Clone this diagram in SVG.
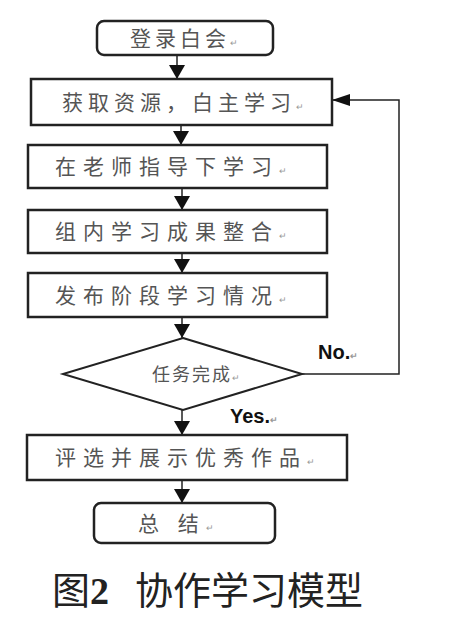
<svg xmlns="http://www.w3.org/2000/svg" width="450" height="618" viewBox="0 0 450 618">
<defs>
<marker id="ah" viewBox="0 0 14 16" refX="14" refY="8" markerWidth="14" markerHeight="16" markerUnits="userSpaceOnUse" orient="auto">
<path d="M0,0 L14,8 L0,16 z" fill="#111"/>
</marker>
<marker id="ah2" viewBox="0 0 18 12" refX="18" refY="6" markerWidth="18" markerHeight="12" markerUnits="userSpaceOnUse" orient="auto">
<path d="M0,0 L18,6 L0,12 z" fill="#111"/>
</marker>
</defs>
<style>
.box{fill:#fff;stroke:#222;stroke-width:2.5}
.t{font-family:"Noto Sans CJK SC","Liberation Serif",serif;font-size:21px;fill:#555;letter-spacing:7px}
.rm{font-size:9px;fill:#999;letter-spacing:0}
.c{stroke:#222;stroke-width:1.5;fill:none}
.lbl{font-family:"Liberation Sans",Arial,sans-serif;font-weight:bold;font-size:20px;fill:#111}
</style>
<rect width="450" height="618" fill="#fff"/>
<g id="connectors">
<line class="c" x1="177" y1="55" x2="177" y2="79" marker-end="url(#ah)"/>
<line class="c" x1="181" y1="125" x2="181" y2="145" marker-end="url(#ah)"/>
<line class="c" x1="182" y1="188" x2="182" y2="210" marker-end="url(#ah)"/>
<line class="c" x1="182" y1="253" x2="182" y2="273" marker-end="url(#ah)"/>
<line class="c" x1="182" y1="317" x2="182" y2="338" marker-end="url(#ah)"/>
<line class="c" x1="182" y1="410" x2="182" y2="435" marker-end="url(#ah)"/>
<line class="c" x1="182" y1="480" x2="182" y2="503" marker-end="url(#ah)"/>
<polyline class="c" points="302,374 399,374 399,100 332,100" marker-end="url(#ah2)"/>
<text class="lbl" x="318" y="359">No.<tspan class="rm">↵</tspan></text>
<text class="lbl" x="230" y="423">Yes.<tspan class="rm">↵</tspan></text>
</g>
<g id="start">
<rect class="box" x="97" y="21" width="176" height="34" rx="7"/>
<text class="t" style="letter-spacing:4px" x="130" y="46">登录白会<tspan class="rm">↵</tspan></text>
</g>
<g id="step1">
<rect class="box" x="31" y="79" width="301" height="46"/>
<text class="t" style="letter-spacing:5px" x="62" y="110">获取资源，白主学习<tspan class="rm">↵</tspan></text>
</g>
<g id="step2">
<rect class="box" x="28" y="145" width="299" height="43"/>
<text class="t" x="55" y="174">在老师指导下学习<tspan class="rm">↵</tspan></text>
</g>
<g id="step3">
<rect class="box" x="28" y="210" width="299" height="43"/>
<text class="t" x="55" y="239">组内学习成果整合<tspan class="rm">↵</tspan></text>
</g>
<g id="step4">
<rect class="box" x="28" y="273" width="299" height="44"/>
<text class="t" x="55" y="303">发布阶段学习情况<tspan class="rm">↵</tspan></text>
</g>
<g id="decision">
<polygon class="box" style="stroke-width:2" points="183,338 302,374 183,410 63,374"/>
<text class="t" style="font-size:18px;letter-spacing:2px" x="152" y="381">任务完成<tspan class="rm">↵</tspan></text>
</g>
<g id="step5">
<rect class="box" x="27" y="435" width="320" height="45"/>
<text class="t" style="letter-spacing:7px" x="55" y="465">评选并展示优秀作品<tspan class="rm">↵</tspan></text>
</g>
<g id="end">
<rect class="box" x="94" y="503" width="181" height="40" rx="7"/>
<text class="t" x="138" y="531">总 结<tspan class="rm">↵</tspan></text>
</g>
<text x="52" y="604" style="font-family:'Noto Sans CJK SC',sans-serif;font-size:38px;fill:#222">图<tspan style="font-family:'Liberation Serif',serif;font-weight:bold">2</tspan><tspan dx="26">协作学习模型</tspan></text>
</svg>
